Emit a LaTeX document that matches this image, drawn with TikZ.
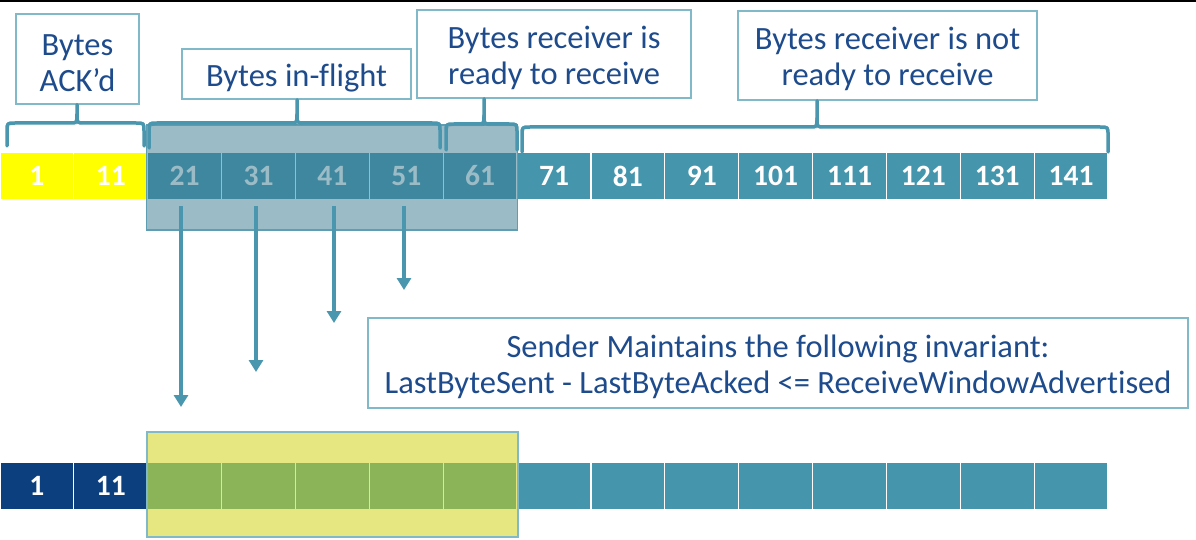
\documentclass[tikz,border=0pt]{standalone}
\usepackage{fontspec}
\setmainfont{Carlito}[Ligatures=NoCommon]
\usetikzlibrary{arrows.meta}
\definecolor{cellteal}{RGB}{69,150,173}
\definecolor{ovl}{RGB}{57,122,144}
\definecolor{ovlborder}{RGB}{95,158,178}
\definecolor{yel}{RGB}{255,255,0}
\definecolor{navy}{RGB}{11,63,126}
\definecolor{ovy}{RGB}{209,209,5}
\definecolor{lbltext}{RGB}{30,75,140}
\definecolor{boxline}{RGB}{130,185,200}
\definecolor{bracec}{RGB}{74,150,175}
\newcommand\mybrace[6]{%
  \coordinate (tmp) at (#3,#5);
  \draw[brace] (#1,#4) -- (#1,#5+8) .. controls (#1,#5) .. (#1+8,#5) -- (#3-7,#5) .. controls (#3,#5) .. (#3,#5-9) -- (tmp |- #6.south);
  \draw[brace] (#2,#4) -- (#2,#5+8) .. controls (#2,#5) .. (#2-8,#5) -- (#3+7,#5) .. controls (#3,#5) .. (#3,#5-9);
}
\begin{document}
\begin{tikzpicture}[x=1pt,y=-1pt,
  cell/.style={minimum width=73.87pt,minimum height=48pt,inner sep=0pt,draw=white,line width=1.2pt,text=white,font=\bfseries\fontsize{29.5}{30}\selectfont},
  lbl/.style={draw=boxline,line width=1.5pt,fill=white,text=lbltext,align=center,inner sep=0pt,font=\fontsize{32.5}{36}\selectfont},
  two/.style={text height=66pt},
  one/.style={text height=30pt},
  brace/.style={draw=bracec,line width=3.5pt,line cap=round,line join=round,
    preaction={draw=black,draw opacity=0.12,transform canvas={xshift=1.5pt,yshift=-2pt}}},
  arr/.style={draw=bracec,line width=3.5pt,-{Triangle[width=14pt,length=12pt]}},
  win/.style={line width=1.5pt,inner sep=0pt,minimum width=371pt,minimum height=105pt,fill opacity=0.5}
]
\useasboundingbox (0,0) rectangle (1196,540);
\fill[white] (0,0) rectangle (1196,540);
\fill[black] (0,0) rectangle (1196,2);

% top row
\foreach \i/\t/\c in {0/1/yel,1/11/yel,2/21/cellteal,3/31/cellteal,4/41/cellteal,5/51/cellteal,6/61/cellteal,7/71/cellteal,8/81/cellteal,9/91/cellteal,10/101/cellteal,11/111/cellteal,12/121/cellteal,13/131/cellteal,14/141/cellteal}
  \node[cell,fill=\c] (t\i) at ({(\i+0.5)*73.87},176) {\t};

% sending window overlay
\node[win,draw=ovlborder,fill=ovl] (swin) at (332,177.5) {};

% labels
\node[lbl,two,minimum width=123pt,minimum height=90pt] (lack) at (77.5,59) {Bytes\\ACK’d};
\node[lbl,one,minimum width=229pt,minimum height=50pt] (lflight) at (296.5,74) {Bytes in-flight};
\node[lbl,two,minimum width=274pt,minimum height=88pt] (lready) at (554,54) {Bytes receiver is\\ready to receive};
\node[lbl,two,minimum width=299pt,minimum height=89pt] (lnot) at (887.5,55.5) {Bytes receiver is not\\ready to receive};

% braces
\mybrace{7}{144}{77}{146}{123}{lack}
\mybrace{149}{440}{297}{148}{123}{lflight}
\mybrace{446}{517}{484}{150}{124}{lready}
\mybrace{522}{1108}{817}{152}{127}{lnot}

% arrows
\coordinate (a2) at (181,407);
\coordinate (a3) at (256,372);
\coordinate (a4) at (334,323);
\coordinate (a5) at (404,290);
\draw[arr] (t2.south -| a2) ++(0,5) -- (a2);
\draw[arr] (t3.south -| a3) ++(0,5) -- (a3);
\draw[arr] (t4.south -| a4) ++(0,5) -- (a4);
\draw[arr] (t5.south -| a5) ++(0,5) -- (a5);

% invariant
\node[lbl,two,minimum width=820pt,minimum height=90pt] (inv) at (778,363) {Sender Maintains the following invariant:\\LastByteSent - LastByteAcked <= ReceiveWindowAdvertised};

% bottom row
\foreach \i/\t/\c in {0/1/navy,1/11/navy,2//cellteal,3//cellteal,4//cellteal,5//cellteal,6//cellteal,7//cellteal,8//cellteal,9//cellteal,10//cellteal,11//cellteal,12//cellteal,13//cellteal,14//cellteal}
  \node[cell,fill=\c] (b\i) at ({(\i+0.5)*73.87},486) {\t};

\node[win,draw=boxline,fill=ovy] (rwin) at (332.5,484.5) {};
\end{tikzpicture}
\end{document}
